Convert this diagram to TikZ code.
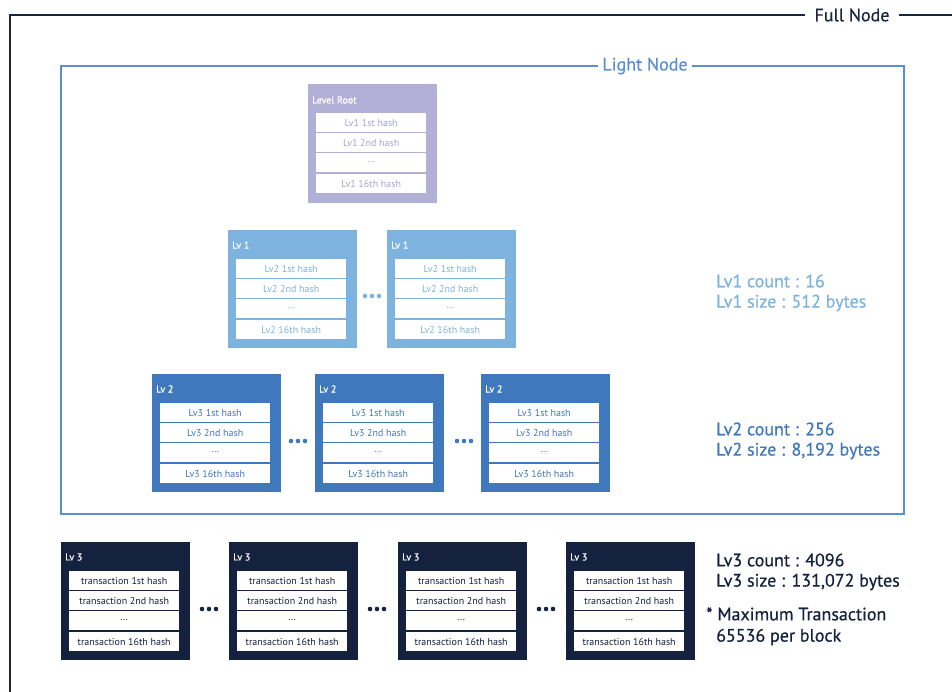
\documentclass[tikz,border=0pt]{standalone}
\usepackage{fontspec}
\setmainfont{PT Sans}
\newfontfamily\medfont[FakeBold=0.6]{PT Sans}
\definecolor{lav}{HTML}{B3B0D8}
\definecolor{lavtxt}{HTML}{A7A4D0}
\definecolor{lvone}{HTML}{7EB3E0}
\definecolor{lvtwo}{HTML}{4078BD}
\definecolor{lvthree}{HTML}{14213F}
\definecolor{lightframe}{HTML}{5A8ED0}
\definecolor{fullframe}{HTML}{1A2540}
\newcommand\hashbox[9]{%
  \node[boxbg, fill=#4] (#1) at (#2,#3) {};
  \node[boxlabel] (#1-lab) at ([xshift=4pt,yshift=-15pt]#1.north west) {#6};
  \node[hashrow, text=#5] (#1-r1) at ([xshift=8pt,yshift=-29pt]#1.north west) {#7};
  \node[hashrow, text=#5] (#1-r2) at ([xshift=8pt,yshift=-49pt]#1.north west) {#8};
  \node[hashrow, text=#5] (#1-r3) at ([xshift=8pt,yshift=-69pt]#1.north west) {\raisebox{2pt}{...}};
  \node[hashrow, text=#5] (#1-r4) at ([xshift=8pt,yshift=-90pt]#1.north west) {#9};
}
\newcommand\threedots[3]{%
  \foreach \dx in {-7,0,7} {\fill[#3] (#1+\dx,#2) circle (2.3);}
}
\begin{document}
\begin{tikzpicture}[x=1pt,y=-1pt,
  boxbg/.style={draw=none, minimum width=129pt, minimum height=118pt, anchor=north west, inner sep=0pt},
  boxlabel/.style={anchor=west, text=white, font=\medfont\fontsize{10}{10}\selectfont, inner sep=0pt},
  hashrow/.style={fill=white, minimum width=110pt, minimum height=19pt, anchor=north west, inner sep=0pt, font=\fontsize{10}{10}\selectfont},
  stat/.style={anchor=west, font=\medfont\fontsize{18}{20}\selectfont, inner sep=0pt}
]
\useasboundingbox (0,0) rectangle (952,692);
% Full node frame
\draw[fullframe, line width=1.2pt] (10,700) -- (10,15) -- (805,15);
\draw[fullframe, line width=1.2pt] (899,15) -- (960,15);
\node[anchor=center, text=fullframe, font=\medfont\fontsize{18}{18}\selectfont, inner sep=0pt] (fulllab) at (852,15) {Full Node};
% Light node frame
\draw[lightframe, line width=1.2pt] (598,66) -- (61,66) -- (61,514) -- (904,514) -- (904,66) -- (692,66);
\node[anchor=center, text=lightframe, font=\medfont\fontsize{18}{18}\selectfont, inner sep=0pt] (lightlab) at (645,66) {Light Node};
% Level root
\node[boxbg, fill=lav, minimum height=119pt] (root) at (308,84) {};
\node[boxlabel] (root-lab) at ([xshift=4pt,yshift=-16pt]root.north west) {Level Root};
\node[hashrow, text=lavtxt] (root-r1) at (316,113) {Lv1 1st hash};
\node[hashrow, text=lavtxt] (root-r2) at (316,133) {Lv1 2nd hash};
\node[hashrow, text=lavtxt] (root-r3) at (316,153) {\raisebox{2pt}{...}};
\node[hashrow, text=lavtxt] (root-r4) at (316,174) {Lv1 16th hash};
% Lv1
\hashbox{a1}{228}{230}{lvone}{lvone}{Lv 1}{Lv2 1st hash}{Lv2 2nd hash}{Lv2 16th hash}
\hashbox{a2}{387}{230}{lvone}{lvone}{Lv 1}{Lv2 1st hash}{Lv2 2nd hash}{Lv2 16th hash}
\threedots{372}{296}{lvone}
% Lv2
\hashbox{b1}{152}{374}{lvtwo}{lvtwo}{Lv 2}{Lv3 1st hash}{Lv3 2nd hash}{Lv3 16th hash}
\hashbox{b2}{315}{374}{lvtwo}{lvtwo}{Lv 2}{Lv3 1st hash}{Lv3 2nd hash}{Lv3 16th hash}
\hashbox{b3}{481}{374}{lvtwo}{lvtwo}{Lv 2}{Lv3 1st hash}{Lv3 2nd hash}{Lv3 16th hash}
\threedots{298}{441}{lvtwo}
\threedots{464}{441}{lvtwo}
% Lv3
\hashbox{c1}{61}{542}{lvthree}{lvthree}{Lv 3}{transaction 1st hash}{transaction 2nd hash}{transaction 16th hash}
\hashbox{c2}{229}{542}{lvthree}{lvthree}{Lv 3}{transaction 1st hash}{transaction 2nd hash}{transaction 16th hash}
\hashbox{c3}{398}{542}{lvthree}{lvthree}{Lv 3}{transaction 1st hash}{transaction 2nd hash}{transaction 16th hash}
\hashbox{c4}{566}{542}{lvthree}{lvthree}{Lv 3}{transaction 1st hash}{transaction 2nd hash}{transaction 16th hash}
\threedots{209}{609}{lvthree}
\threedots{377}{609}{lvthree}
\threedots{546}{609}{lvthree}
% Stats
\node[stat, text=lvone] (s1a) at (716,281) {Lv1 count : 16};
\node[stat, text=lvone] (s1b) at (716,303) {Lv1 size : 512 bytes};
\node[stat, text=lvtwo] (s2a) at (716,429) {Lv2 count : 256};
\node[stat, text=lvtwo] (s2b) at (716,451) {Lv2 size : 8,192 bytes};
\node[stat, text=lvthree] (s3a) at (716,560) {Lv3 count : 4096};
\node[stat, text=lvthree] (s3b) at (716,582) {Lv3 size : 131,072 bytes};
\node[stat, text=lvthree, anchor=west] (s3c) at (706,614) {* Maximum Transaction};
\node[stat, text=lvthree] (s3d) at (716,637) {65536 per block};
\end{tikzpicture}
\end{document}
